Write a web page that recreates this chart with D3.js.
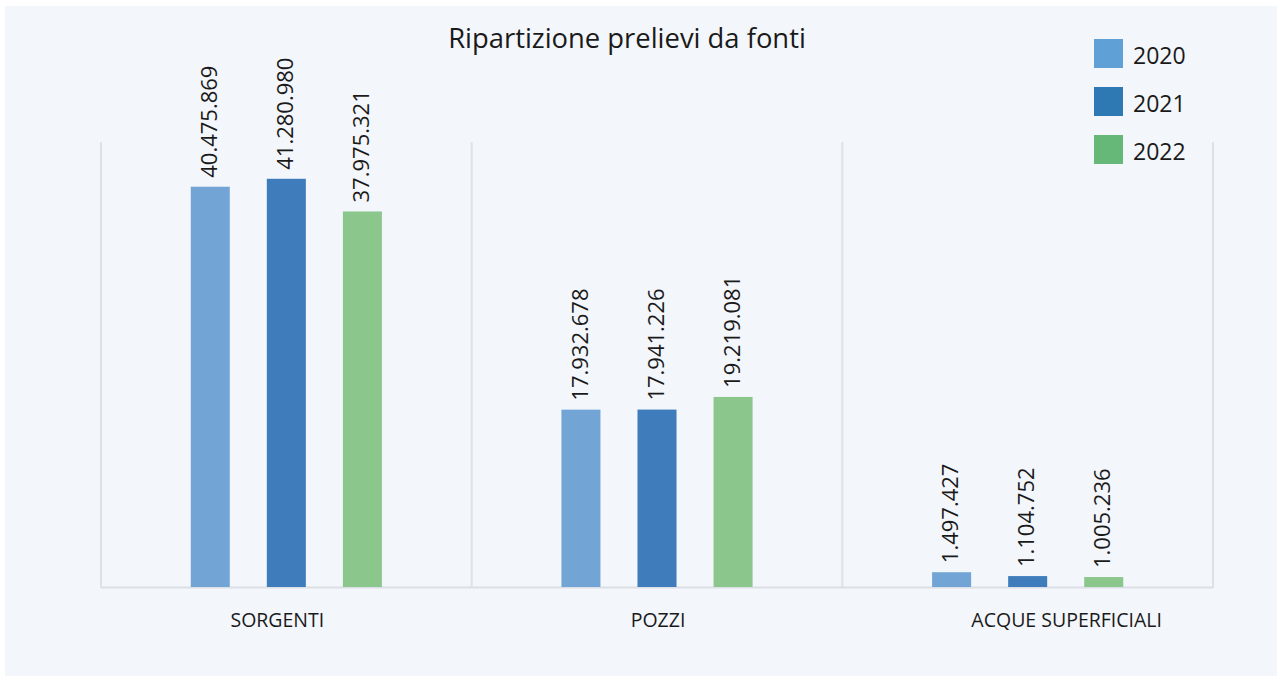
<!DOCTYPE html>
<html>
<head>
<meta charset="utf-8">
<script src="https://cdn.jsdelivr.net/npm/d3@7"></script>
<style>
  html, body { margin: 0; padding: 0; background: #ffffff; }
  svg { display: block; }
  text { font-family: "Open Sans", "Noto Sans", sans-serif; fill: #1a1a1a; }
</style>
</head>
<body>
<svg id="chart" width="1283" height="682"></svg>
<script>
// ---- data ----
const categories = ["SORGENTI", "POZZI", "ACQUE SUPERFICIALI"];
const years = ["2020", "2021", "2022"];
const values2020 = [40475869, 17932678, 1497427];
const values2021 = [41280980, 17941226, 1104752];
const values2022 = [37975321, 19219081, 1005236];
const title = "Ripartizione prelievi da fonti";

// ---- styles ----
const barColors = ["#72a5d6", "#3f7cbb", "#8bc68d"];
const legendColors = ["#5fa0d6", "#2e78b4", "#66b878"];
const labelShift = [-9, 1, 39]; // horizontal shift of category labels (layout)

const series = [values2020, values2021, values2022];
const svg = d3.select("#chart");

// background panel
svg.append("rect").attr("x", 5).attr("y", 6).attr("width", 1272).attr("height", 670).attr("fill", "#f3f6fb");

const plot = { left: 101, right: 1213, top: 142, bottom: 587 };

const x0 = d3.scaleBand().domain(categories).range([plot.left, plot.right]).paddingInner(0).paddingOuter(0);
const x1 = d3.scaleBand().domain(years).range([0, x0.bandwidth()]).paddingInner(0.487).paddingOuter(1.18);
const y = d3.scaleLinear().domain([0, 45000000]).range([plot.bottom, plot.top]);

// vertical separators
const seps = [plot.left].concat(categories.map(c => x0(c) + x0.bandwidth()));
svg.append("g").selectAll("line").data(seps).join("line")
  .attr("x1", d => d).attr("x2", d => d)
  .attr("y1", plot.top).attr("y2", plot.bottom + 1)
  .attr("stroke", "#dde1e8").attr("stroke-width", 2);

// baseline
svg.append("line").attr("x1", plot.left).attr("x2", plot.right)
  .attr("y1", plot.bottom + 0.5).attr("y2", plot.bottom + 0.5)
  .attr("stroke", "#dcdfe6").attr("stroke-width", 2);

// bars
const groups = svg.append("g").selectAll("g").data(categories).join("g")
  .attr("transform", c => `translate(${x0(c)},0)`);

const fmt = v => d3.format(",")(v).replace(/,/g, ".");

years.forEach((yr, si) => {
  groups.append("rect")
    .attr("x", x1(yr))
    .attr("width", x1.bandwidth())
    .attr("y", (c, ci) => y(series[si][ci]))
    .attr("height", (c, ci) => y(0) - y(series[si][ci]))
    .attr("fill", barColors[si]);
  groups.append("text")
    .attr("transform", (c, ci) => `translate(${x1(yr) + x1.bandwidth() / 2 - 1},${y(series[si][ci]) - 9}) rotate(-90)`)
    .attr("dy", "0.35em")
    .attr("text-anchor", "start")
    .attr("font-size", 22)
    .text((c, ci) => fmt(series[si][ci]));
});

// x axis labels
const xAxis = d3.axisBottom(x0).tickSize(0).tickPadding(0);
const gx = svg.append("g").attr("transform", `translate(0,${plot.bottom})`).call(xAxis);
gx.select(".domain").remove();
gx.selectAll(".tick text")
  .attr("y", 33)
  .attr("dy", "0.35em")
  .attr("dx", (d, i) => labelShift[i])
  .attr("font-size", 19.5)
  .attr("font-family", "'Open Sans', sans-serif")
  .attr("fill", "#1a1a1a");

// title
svg.append("text").attr("x", 627).attr("y", 38).attr("dy", "0.35em")
  .attr("text-anchor", "middle").attr("font-size", 27.4).text(title);

// legend
const lg = svg.append("g").attr("transform", "translate(1094,39)");
const li = lg.selectAll("g").data(years).join("g").attr("transform", (d, i) => `translate(0,${i * 48})`);
li.append("rect").attr("width", 29).attr("height", 29).attr("fill", (d, i) => legendColors[i]);
li.append("text").attr("x", 39).attr("y", 17).attr("dy", "0.35em").attr("font-size", 23).text(d => d);
</script>
</body>
</html>
